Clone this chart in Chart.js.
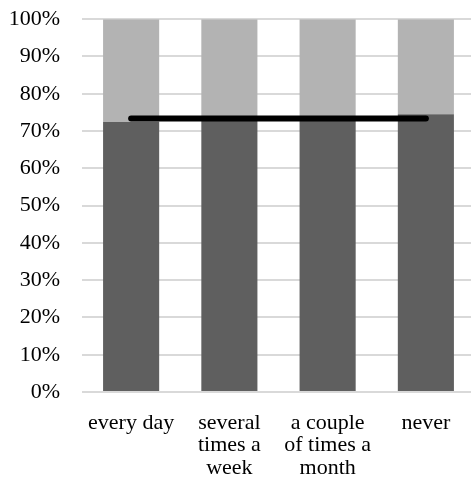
<!DOCTYPE html>
<html lang="en">
  <head>
    <meta charset="UTF-8" />
    <title>Frequency chart</title>
    <script src="https://cdn.jsdelivr.net/npm/chart.js@4.4.1/dist/chart.umd.min.js"></script>
    <style>
      html, body { margin: 0; padding: 0; background: #fff; overflow: hidden; }
      #wrap { position: absolute; left: 0; top: -14px; width: 475px; height: 496px; }
    </style>
  </head>
  <body>
    <div id="wrap"><canvas id="myChart"></canvas></div>

    <script>
    // values (percent)
    const categories = [
      'every day',
      ['several', 'times a', 'week'],
      ['a couple', 'of times a', 'month'],
      'never'
    ];
    const darkShare = [72.4, 73.5, 73.5, 74.5];
    const lightShare = [27.6, 26.5, 26.5, 25.5];
    const average = [73.35, 73.35, 73.35, 73.35];
    const yTicks = [0, 10, 20, 30, 40, 50, 60, 70, 80, 90, 100];

    const font = { family: '"Liberation Serif", "Times New Roman", serif', size: 22, lineHeight: 1.02 };

    chartIt();

    function chartIt() {
      const ctx = document.getElementById('myChart').getContext('2d');
      new Chart(ctx, {
        type: 'bar',
        data: {
          labels: categories,
          datasets: [
            {
              type: 'line',
              data: average,
              stack: 'avg',
              borderColor: '#000',
              borderWidth: 6,
              borderCapStyle: 'round',
              pointRadius: 0,
              fill: false,
              order: 0
            },
            {
              data: darkShare,
              stack: 'bars',
              backgroundColor: '#5f5f5f',
              barPercentage: 0.571,
              categoryPercentage: 1,
              order: 1
            },
            {
              data: lightShare,
              stack: 'bars',
              backgroundColor: '#b3b3b3',
              barPercentage: 0.571,
              categoryPercentage: 1,
              order: 1
            }
          ]
        },
        options: {
          responsive: true,
          maintainAspectRatio: false,
          animation: false,
          layout: { padding: { left: 10, top: 0, right: 0, bottom: 0 } },
          plugins: { legend: { display: false }, tooltip: { enabled: false } },
          scales: {
            x: {
              stacked: true,
              grid: { display: false },
              border: { display: false },
              ticks: { color: '#000', font: font, maxRotation: 0, autoSkip: false, padding: 12 },
              afterFit: axis => { axis.height = 90; }
            },
            y: {
              stacked: true,
              min: 0,
              max: 100,
              afterBuildTicks: axis => { axis.ticks = yTicks.map(v => ({ value: v })); },
              grid: { color: '#d9d9d9', lineWidth: 2, drawTicks: false },
              border: { display: false },
              ticks: { color: '#000', font: font, padding: 22, callback: v => v + '%' },
              afterFit: axis => { axis.width = 72; }
            }
          }
        }
      });
    }
    </script>
  </body>
</html>
